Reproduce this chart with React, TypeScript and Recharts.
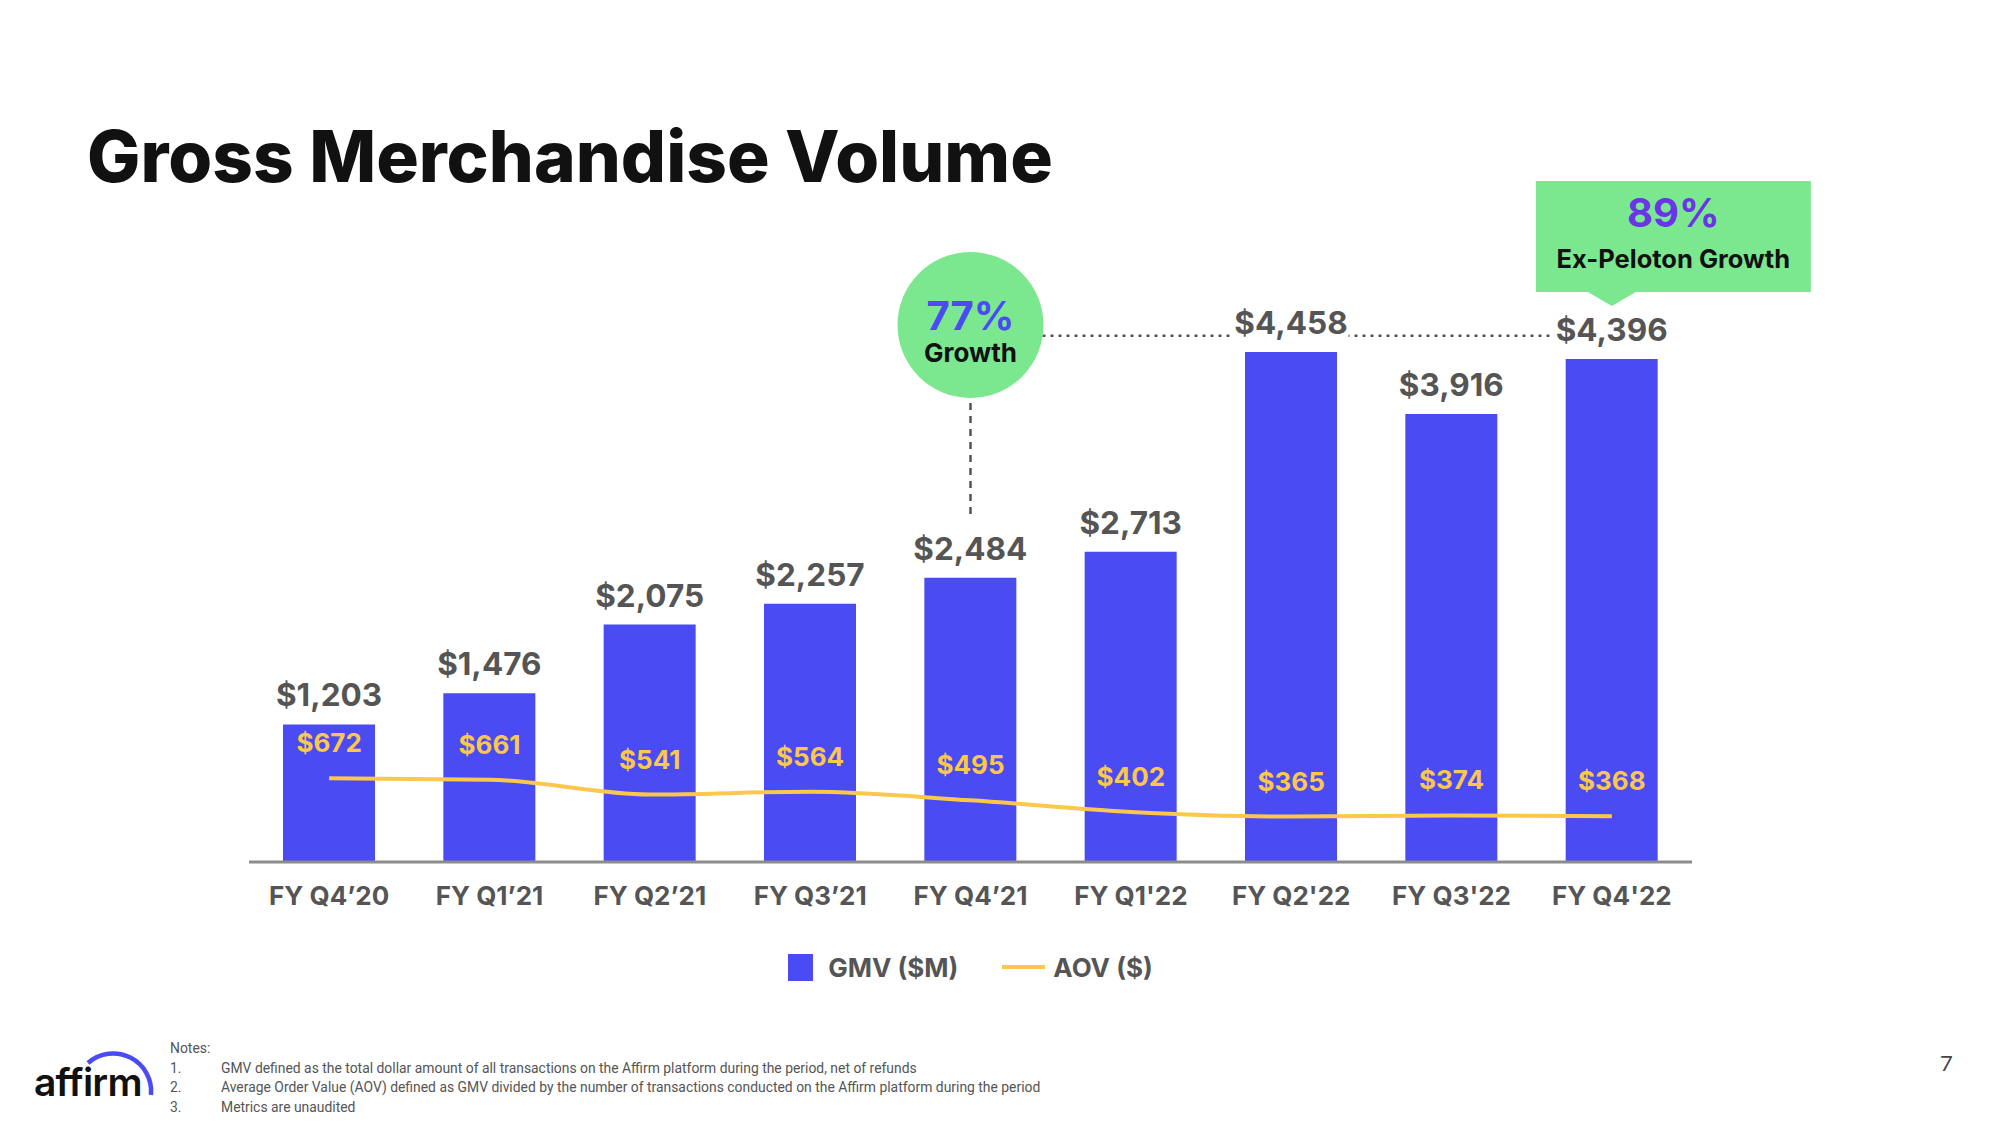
import React from "react";
import {
  ComposedChart,
  Bar,
  Line,
  XAxis,
  YAxis,
  LabelList,
  Legend,
  ReferenceLine,
  ReferenceDot,
} from "recharts";

const quarters = [
  "FY Q4’20",
  "FY Q1’21",
  "FY Q2’21",
  "FY Q3’21",
  "FY Q4’21",
  "FY Q1'22",
  "FY Q2'22",
  "FY Q3'22",
  "FY Q4'22",
];
const gmv = [1203, 1476, 2075, 2257, 2484, 2713, 4458, 3916, 4396];
const aov = [672, 661, 541, 564, 495, 402, 365, 374, 368];

// callouts (values on the GMV scale)
const bubbleQuarter = "FY Q4’21";
const bubbleY = 4694;
const bubbleDropTo = 3020;
const growthLineY = 4600;
const calloutQuarter = "FY Q4'22";
const calloutY = 4860;

const notes = [
  "GMV defined as the total dollar amount of all transactions on the Affirm platform during the period, net of refunds",
  "Average Order Value (AOV) defined as GMV divided by the number of transactions conducted on the Affirm platform during the period",
  "Metrics are unaudited",
];

const data = quarters.map((q, i) => ({ quarter: q, gmv: gmv[i], aov: aov[i] }));

const BLUE = "#4B4BF3";
const YELLOW = "#FBC84C";
const GREEN = "#7BE88F";
const GREY = "#555555";
const FONT = "Inter, Lato, sans-serif";

const fmt = (v: number) => "$" + v.toLocaleString("en-US");

const GmvLabel = (props: any) => {
  const { x, y, width, value } = props;
  const cx = x + width / 2;
  const text = fmt(value);
  const w = text.length * 18.5 + 4;
  return (
    <g>
      <rect x={cx - w / 2} y={y - 45} width={w} height={35} fill="#fff" />
      <text
        x={cx}
        y={y - 18}
        textAnchor="middle"
        fontSize={31.5}
        fontWeight={700}
        fill={GREY}
      >
        {text}
      </text>
    </g>
  );
};

const Bubble = (props: any) => {
  const { cx, cy } = props;
  return (
    <g>
      <circle cx={cx} cy={cy} r={73} fill={GREEN} />
      <text x={cx} y={cy + 5} textAnchor="middle" fontSize={40} fontWeight={700} fill={BLUE}>
        77%
      </text>
      <text x={cx} y={cy + 37} textAnchor="middle" fontSize={26} fontWeight={700} fill="#111">
        Growth
      </text>
    </g>
  );
};

const Callout = (props: any) => {
  const { cx, cy } = props;
  const left = cx - 76;
  const right = cx + 199;
  const bottom = cy - 14;
  const top = bottom - 111;
  const mid = (left + right) / 2;
  return (
    <g>
      <path
        d={`M${left},${top} L${right},${top} L${right},${bottom} L${cx + 24},${bottom} L${cx},${cy} L${cx - 24},${bottom} L${left},${bottom} Z`}
        fill={GREEN}
      />
      <text x={mid} y={top + 46} textAnchor="middle" fontSize={40} fontWeight={700} fill="#6A35E6">
        89%
      </text>
      <text x={mid} y={top + 87} textAnchor="middle" fontSize={25.5} fontWeight={700} fill="#111">
        Ex-Peloton Growth
      </text>
    </g>
  );
};

const LegendContent = (props: any) => {
  const items = [...(props.payload || [])].sort(
    (a: any, b: any) => (a.type === "line" ? 1 : 0) - (b.type === "line" ? 1 : 0)
  );
  return (
    <div
      style={{
        height: 70,
        display: "flex",
        justifyContent: "center",
        alignItems: "center",
        fontSize: 26,
        fontWeight: 700,
        color: GREY,
      }}
    >
      {items.map((p: any, i: number) => (
        <div key={i} style={{ display: "flex", alignItems: "center", marginLeft: i ? 44 : 0 }}>
          {p.type === "line" ? (
            <div style={{ width: 43, height: 4, background: p.color, marginRight: 8 }} />
          ) : (
            <div style={{ width: 25, height: 27, background: p.color, marginRight: 15 }} />
          )}
          <span>{p.value}</span>
        </div>
      ))}
    </div>
  );
};

export default function App() {
  return (
    <div
      style={{
        position: "absolute",
        left: 0,
        top: 0,
        width: 2000,
        height: 1125,
        background: "#fff",
        overflow: "hidden",
        fontFamily: FONT,
      }}
    >
      <div
        style={{
          position: "absolute",
          left: 87,
          top: 121,
          fontSize: 71,
          lineHeight: 1,
          fontWeight: 800,
          color: "#111",
          whiteSpace: "nowrap",
        }}
      >
        Gross Merchandise Volume
      </div>

      <div style={{ position: "absolute", left: 0, top: 0 }}>
        <ComposedChart
          width={2000}
          height={1125}
          data={data}
          margin={{ top: 290, right: 308, bottom: 123, left: 249 }}
        >
          <XAxis
            dataKey="quarter"
            height={70}
            interval={0}
            tickLine={false}
            tickMargin={19}
            axisLine={{ stroke: "#8c8c8c", strokeWidth: 3 }}
            tick={{ fill: GREY, fontSize: 26, fontWeight: 700 }}
          />
          <YAxis yAxisId="gmv" domain={[0, 5000]} hide />
          <YAxis yAxisId="aov" orientation="right" domain={[0, 4590]} hide />
          <Legend align="left" verticalAlign="bottom" content={<LegendContent />} />
          <ReferenceLine
            yAxisId="gmv"
            segment={[
              { x: bubbleQuarter, y: growthLineY },
              { x: calloutQuarter, y: growthLineY },
            ]}
            stroke={GREY}
            strokeWidth={2.5}
            strokeDasharray="3 5"
          />
          <ReferenceLine
            yAxisId="gmv"
            segment={[
              { x: bubbleQuarter, y: bubbleY },
              { x: bubbleQuarter, y: bubbleDropTo },
            ]}
            stroke={GREY}
            strokeWidth={2.5}
            strokeDasharray="7 6"
          />
          <Bar
            yAxisId="gmv"
            dataKey="gmv"
            name="GMV ($M)"
            fill={BLUE}
            barSize={92}
            legendType="rect"
            isAnimationActive={false}
          >
            <LabelList dataKey="gmv" content={<GmvLabel />} />
          </Bar>
          <Line
            yAxisId="aov"
            dataKey="aov"
            name="AOV ($)"
            type="monotone"
            stroke={YELLOW}
            strokeWidth={4}
            dot={false}
            activeDot={false}
            legendType="line"
            isAnimationActive={false}
          >
            <LabelList
              dataKey="aov"
              position="top"
              offset={26}
              fill={YELLOW}
              fontSize={26}
              fontWeight={700}
              formatter={(v: any) => fmt(Number(v))}
            />
          </Line>
          <ReferenceDot
            yAxisId="gmv"
            x={bubbleQuarter}
            y={bubbleY}
            r={73}
            shape={(p: any) => <Bubble {...p} />}
          />
          <ReferenceDot
            yAxisId="gmv"
            x={calloutQuarter}
            y={calloutY}
            r={1}
            shape={(p: any) => <Callout {...p} />}
          />
        </ComposedChart>
      </div>

      <svg style={{ position: "absolute", left: 0, top: 1030 }} width={170} height={95}>
        <path d="M 88 33 A 38 38 0 0 1 151 65" fill="none" stroke={BLUE} strokeWidth={4.5} />
        <text x={34} y={66} fontSize={39} fontWeight={600} fill="#111" fontFamily={FONT} letterSpacing={-0.8}>
          affirm
        </text>
      </svg>

      <div
        style={{
          position: "absolute",
          left: 170,
          top: 1039,
          fontSize: 13.9,
          lineHeight: "19.6px",
          color: "#555",
          fontFamily: "'Liberation Sans Narrow', 'Roboto', sans-serif",
        }}
      >
        <div>Notes:</div>
        {notes.map((n, i) => (
          <div key={i} style={{ display: "flex" }}>
            <span style={{ width: 51 }}>{i + 1}.</span>
            <span>{n}</span>
          </div>
        ))}
      </div>

      <div
        style={{
          position: "absolute",
          left: 1940,
          top: 1049,
          fontSize: 22,
          color: "#444",
          fontFamily: "Lato, sans-serif",
        }}
      >
        7
      </div>
    </div>
  );
}
